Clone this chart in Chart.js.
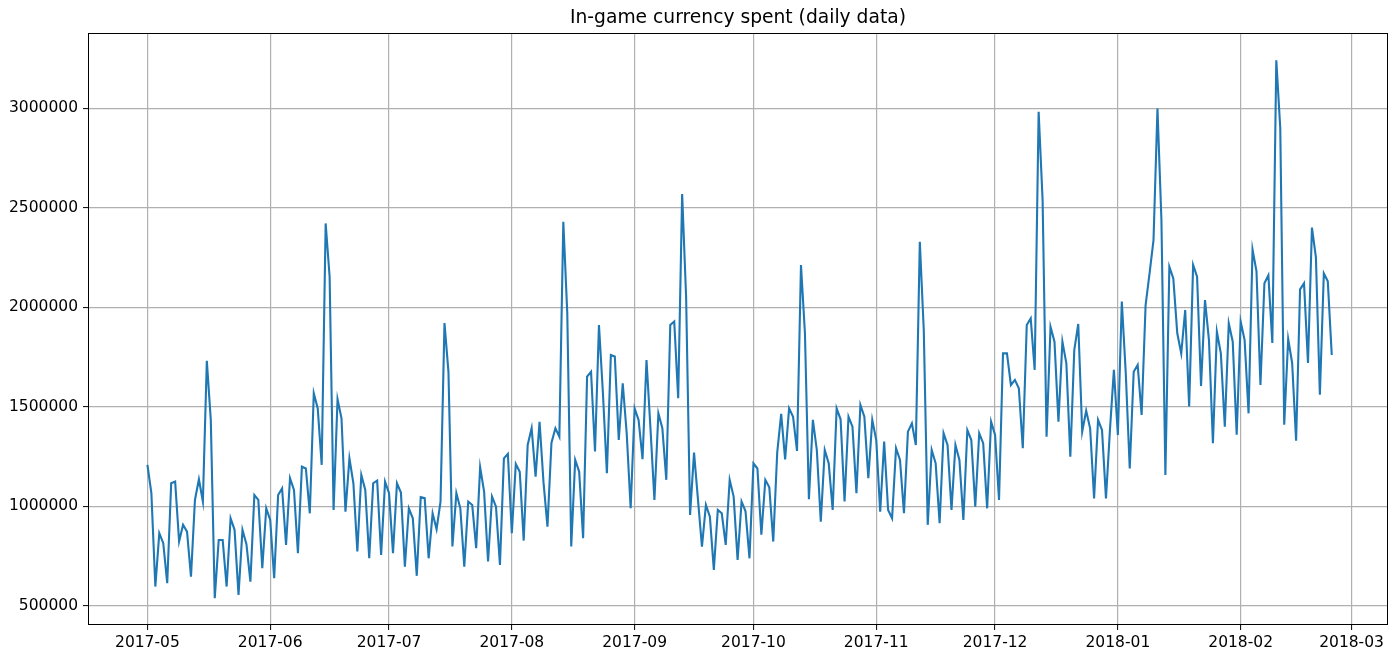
<!DOCTYPE html>
<html>
<head>
<meta charset="utf-8">
<title>In-game currency spent</title>
<script src="https://cdn.jsdelivr.net/npm/chart.js@4.4.1/dist/chart.umd.min.js"></script>
<style>
  html, body { margin: 0; padding: 0; background: #fff; }
  canvas { display: block; }
</style>
</head>
<body>
<canvas id="currencyChart" width="1397" height="655"></canvas>
<script>
// daily GEMS spent, one value per day starting at startDate
const startDate = '2017-05-01';
const gemsSpent = [
  1208000, 1066000, 597000, 865000, 815000, 614000, 1116000, 1124000, 823000, 907000,
  873000, 647000, 1032000, 1136000, 1024000, 1731000, 1434000, 539000, 831000, 831000,
  597000, 940000, 882000, 555000, 882000, 810000, 622000, 1057000, 1032000, 689000,
  990000, 932000, 639000, 1057000, 1090000, 806000, 1141000, 1082000, 765000, 1199000,
  1190000, 965000, 1568000, 1492000, 1208000, 2421000, 2153000, 982000, 1538000, 1442000,
  973000, 1241000, 1116000, 773000, 1157000, 1082000, 739000, 1116000, 1129000, 756000,
  1124000, 1066000, 765000, 1116000, 1069000, 697000, 990000, 940000, 651000, 1046000,
  1041000, 739000, 965000, 885000, 1024000, 1920000, 1675000, 798000, 1066000, 990000,
  697000, 1024000, 1007000, 790000, 1196000, 1074000, 723000, 1049000, 998000, 706000,
  1241000, 1263000, 865000, 1213000, 1174000, 828000, 1308000, 1392000, 1149000, 1425000,
  1120000, 898000, 1318000, 1392000, 1350000, 2429000, 1969000, 798000, 1233000, 1174000,
  840000, 1651000, 1676000, 1275000, 1911000, 1568000, 1166000, 1760000, 1752000, 1333000,
  1618000, 1367000, 990000, 1492000, 1434000, 1237000, 1735000, 1392000, 1032000, 1467000,
  1392000, 1133000, 1911000, 1928000, 1543000, 2568000, 2053000, 957000, 1270000, 1032000,
  798000, 1007000, 948000, 681000, 982000, 965000, 806000, 1133000, 1049000, 731000,
  1024000, 975000, 739000, 1216000, 1190000, 857000, 1133000, 1096000, 823000, 1270000,
  1464000, 1236000, 1492000, 1450000, 1278000, 2212000, 1869000, 1036000, 1434000, 1283000,
  923000, 1283000, 1216000, 982000, 1492000, 1437000, 1024000, 1450000, 1400000, 1066000,
  1509000, 1450000, 1141000, 1434000, 1333000, 973000, 1325000, 982000, 940000, 1292000,
  1233000, 965000, 1375000, 1417000, 1308000, 2329000, 1886000, 907000, 1283000, 1216000,
  915000, 1367000, 1308000, 982000, 1308000, 1233000, 932000, 1383000, 1333000, 998000,
  1367000, 1317000, 990000, 1425000, 1358000, 1032000, 1768000, 1768000, 1609000, 1635000,
  1593000, 1292000, 1911000, 1944000, 1685000, 2982000, 2538000, 1350000, 1902000, 1827000,
  1425000, 1827000, 1718000, 1249000, 1785000, 1916000, 1375000, 1480000, 1392000, 1040000,
  1434000, 1383000, 1040000, 1383000, 1685000, 1358000, 2028000, 1668000, 1190000, 1676000,
  1710000, 1459000, 2010000, 2170000, 2337000, 2998000, 2438000, 1157000, 2203000, 2145000,
  1869000, 1768000, 1986000, 1501000, 2212000, 2153000, 1604000, 2036000, 1835000, 1317000,
  1877000, 1768000, 1400000, 1919000, 1827000, 1360000, 1928000, 1835000, 1467000, 2290000,
  2180000, 1610000, 2120000, 2160000, 1820000, 3240000, 2900000, 1410000, 1840000, 1720000,
  1330000, 2090000, 2120000, 1720000, 2400000, 2250000, 1560000, 2170000, 2130000, 1760000
];
const monthLabels = ['2017-05', '2017-06', '2017-07', '2017-08', '2017-09', '2017-10',
                     '2017-11', '2017-12', '2018-01', '2018-02', '2018-03'];
const yTicks = [500000, 1000000, 1500000, 2000000, 2500000, 3000000];

// x axis counts days from startDate, month ticks sit on the 1st of each month
const dayMs = 24 * 3600 * 1000;
const start = Date.parse(startDate);
const monthTicks = monthLabels.map(m => (Date.parse(m + '-01') - start) / dayMs);
const points = gemsSpent.map((v, i) => ({ x: i, y: v }));

// y gets the usual 5% headroom around the data
const yLo = Math.min(...gemsSpent), yHi = Math.max(...gemsSpent);
const yPad = (yHi - yLo) * 0.05;

const tickFont = { family: 'DejaVu Sans', size: 15.5 };

// full box around the plot area, like the matplotlib spines
const frame = {
    id: 'frame',
    afterDraw(chart) {
        const { ctx, chartArea: a } = chart;
        ctx.save();
        ctx.strokeStyle = '#000';
        ctx.lineWidth = 1;
        ctx.strokeRect(Math.round(a.left) + 0.5, Math.round(a.top) + 0.5,
                       Math.round(a.width) - 1, Math.round(a.height) - 1);
        ctx.restore();
    }
};

new Chart(document.getElementById('currencyChart'), {
    type: 'line',
    data: {
        datasets: [{
            label: 'GEMS_GEMS_SPENT',
            data: points,
            borderColor: '#1f77b4',
            borderWidth: 2.1,
            pointRadius: 0,
            tension: 0,
            fill: false
        }]
    },
    options: {
        responsive: false,
        animation: false,
        layout: { padding: { left: 0, right: 9, top: 0, bottom: 0 } },
        plugins: {
            legend: { display: false },
            tooltip: { enabled: false },
            title: {
                display: true,
                text: 'In-game currency spent (daily data)',
                fullSize: false,
                color: '#000',
                font: { family: 'DejaVu Sans', size: 18.7, weight: 'normal' },
                padding: { top: 7, bottom: 4 }
            }
        },
        scales: {
            x: {
                type: 'linear',
                min: -15,
                max: 313.2,
                afterBuildTicks: scale => { scale.ticks = monthTicks.map(v => ({ value: v })); },
                afterFit: scale => { scale.height = 30; },
                ticks: {
                    callback: (v, i) => monthLabels[i],
                    autoSkip: false,
                    maxRotation: 0,
                    padding: 4,
                    color: '#000',
                    font: tickFont
                },
                grid: { color: '#b0b0b0', lineWidth: 1.2, tickColor: '#000', tickLength: 5, tickWidth: 1 },
                border: { display: false }
            },
            y: {
                min: yLo - yPad,
                max: yHi + yPad,
                afterBuildTicks: scale => { scale.ticks = yTicks.map(v => ({ value: v })); },
                afterFit: scale => { scale.width = 88; },
                ticks: {
                    callback: v => String(v),
                    padding: 5,
                    color: '#000',
                    font: tickFont
                },
                grid: { color: '#b0b0b0', lineWidth: 1.2, tickColor: '#000', tickLength: 5, tickWidth: 1 },
                border: { display: false }
            }
        }
    },
    plugins: [frame]
});
</script>
</body>
</html>
